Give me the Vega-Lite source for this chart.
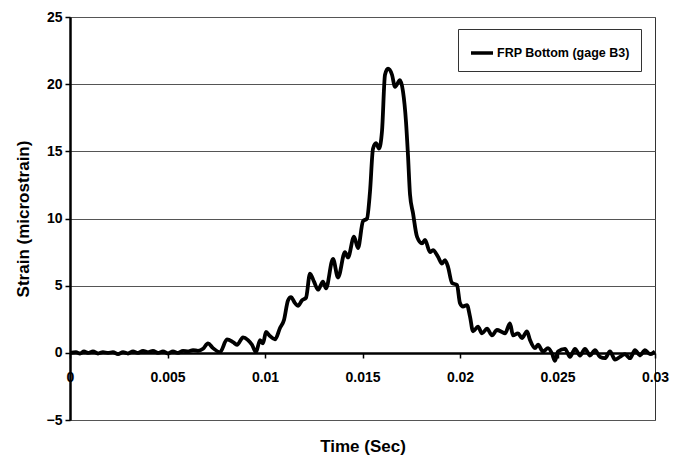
{
  "$schema": "https://vega.github.io/schema/vega-lite/v6.json",
  "width": 585,
  "height": 403,
  "autosize": {"type": "none"},
  "padding": {"left": 70, "top": 17, "right": 28, "bottom": 41},
  "background": "white",
  "config": {
    "font": "Liberation Sans",
    "view": {"stroke": "#333", "strokeWidth": 1}
  },
  "data": {
    "values": [
      {"t": 0, "v": 0, "s": "FRP Bottom (gage B3)"},
      {"t": 0.000308, "v": 0.05, "s": "FRP Bottom (gage B3)"},
      {"t": 0.000513, "v": -0.05, "s": "FRP Bottom (gage B3)"},
      {"t": 0.000718, "v": 0.1, "s": "FRP Bottom (gage B3)"},
      {"t": 0.000923, "v": 0, "s": "FRP Bottom (gage B3)"},
      {"t": 0.001179, "v": 0.1, "s": "FRP Bottom (gage B3)"},
      {"t": 0.001436, "v": -0.05, "s": "FRP Bottom (gage B3)"},
      {"t": 0.001692, "v": 0.05, "s": "FRP Bottom (gage B3)"},
      {"t": 0.001949, "v": 0, "s": "FRP Bottom (gage B3)"},
      {"t": 0.002205, "v": 0.05, "s": "FRP Bottom (gage B3)"},
      {"t": 0.002462, "v": -0.1, "s": "FRP Bottom (gage B3)"},
      {"t": 0.002718, "v": 0.05, "s": "FRP Bottom (gage B3)"},
      {"t": 0.002974, "v": -0.05, "s": "FRP Bottom (gage B3)"},
      {"t": 0.003231, "v": 0.1, "s": "FRP Bottom (gage B3)"},
      {"t": 0.003487, "v": 0, "s": "FRP Bottom (gage B3)"},
      {"t": 0.003744, "v": 0.15, "s": "FRP Bottom (gage B3)"},
      {"t": 0.004, "v": 0.05, "s": "FRP Bottom (gage B3)"},
      {"t": 0.004256, "v": 0.15, "s": "FRP Bottom (gage B3)"},
      {"t": 0.004513, "v": 0, "s": "FRP Bottom (gage B3)"},
      {"t": 0.004769, "v": 0.1, "s": "FRP Bottom (gage B3)"},
      {"t": 0.005026, "v": -0.05, "s": "FRP Bottom (gage B3)"},
      {"t": 0.005282, "v": 0.1, "s": "FRP Bottom (gage B3)"},
      {"t": 0.005538, "v": 0, "s": "FRP Bottom (gage B3)"},
      {"t": 0.005795, "v": 0.15, "s": "FRP Bottom (gage B3)"},
      {"t": 0.006051, "v": 0.1, "s": "FRP Bottom (gage B3)"},
      {"t": 0.006308, "v": 0.2, "s": "FRP Bottom (gage B3)"},
      {"t": 0.006564, "v": 0.15, "s": "FRP Bottom (gage B3)"},
      {"t": 0.006821, "v": 0.3, "s": "FRP Bottom (gage B3)"},
      {"t": 0.007077, "v": 0.7, "s": "FRP Bottom (gage B3)"},
      {"t": 0.007333, "v": 0.35, "s": "FRP Bottom (gage B3)"},
      {"t": 0.007692, "v": 0.05, "s": "FRP Bottom (gage B3)"},
      {"t": 0.008051, "v": 1.0, "s": "FRP Bottom (gage B3)"},
      {"t": 0.008359, "v": 0.8, "s": "FRP Bottom (gage B3)"},
      {"t": 0.008564, "v": 0.6, "s": "FRP Bottom (gage B3)"},
      {"t": 0.008872, "v": 1.15, "s": "FRP Bottom (gage B3)"},
      {"t": 0.009128, "v": 0.95, "s": "FRP Bottom (gage B3)"},
      {"t": 0.009333, "v": 0.6, "s": "FRP Bottom (gage B3)"},
      {"t": 0.009538, "v": 0.05, "s": "FRP Bottom (gage B3)"},
      {"t": 0.009744, "v": 0.95, "s": "FRP Bottom (gage B3)"},
      {"t": 0.009897, "v": 0.7, "s": "FRP Bottom (gage B3)"},
      {"t": 0.010051, "v": 1.55, "s": "FRP Bottom (gage B3)"},
      {"t": 0.010256, "v": 1.25, "s": "FRP Bottom (gage B3)"},
      {"t": 0.010513, "v": 1.0, "s": "FRP Bottom (gage B3)"},
      {"t": 0.010769, "v": 1.85, "s": "FRP Bottom (gage B3)"},
      {"t": 0.010974, "v": 2.45, "s": "FRP Bottom (gage B3)"},
      {"t": 0.011179, "v": 3.9, "s": "FRP Bottom (gage B3)"},
      {"t": 0.011333, "v": 4.15, "s": "FRP Bottom (gage B3)"},
      {"t": 0.011538, "v": 3.7, "s": "FRP Bottom (gage B3)"},
      {"t": 0.011692, "v": 3.5, "s": "FRP Bottom (gage B3)"},
      {"t": 0.011897, "v": 3.9, "s": "FRP Bottom (gage B3)"},
      {"t": 0.012103, "v": 4.1, "s": "FRP Bottom (gage B3)"},
      {"t": 0.012308, "v": 5.9, "s": "FRP Bottom (gage B3)"},
      {"t": 0.012513, "v": 5.3, "s": "FRP Bottom (gage B3)"},
      {"t": 0.012718, "v": 4.7, "s": "FRP Bottom (gage B3)"},
      {"t": 0.012974, "v": 5.3, "s": "FRP Bottom (gage B3)"},
      {"t": 0.013128, "v": 4.8, "s": "FRP Bottom (gage B3)"},
      {"t": 0.013487, "v": 7.0, "s": "FRP Bottom (gage B3)"},
      {"t": 0.013744, "v": 5.6, "s": "FRP Bottom (gage B3)"},
      {"t": 0.014103, "v": 7.5, "s": "FRP Bottom (gage B3)"},
      {"t": 0.014256, "v": 7.1, "s": "FRP Bottom (gage B3)"},
      {"t": 0.014564, "v": 8.65, "s": "FRP Bottom (gage B3)"},
      {"t": 0.014769, "v": 7.8, "s": "FRP Bottom (gage B3)"},
      {"t": 0.015026, "v": 9.8, "s": "FRP Bottom (gage B3)"},
      {"t": 0.015231, "v": 10.0, "s": "FRP Bottom (gage B3)"},
      {"t": 0.015385, "v": 12.0, "s": "FRP Bottom (gage B3)"},
      {"t": 0.015538, "v": 15.2, "s": "FRP Bottom (gage B3)"},
      {"t": 0.015692, "v": 15.6, "s": "FRP Bottom (gage B3)"},
      {"t": 0.015846, "v": 15.2, "s": "FRP Bottom (gage B3)"},
      {"t": 0.016, "v": 16.5, "s": "FRP Bottom (gage B3)"},
      {"t": 0.016154, "v": 20.7, "s": "FRP Bottom (gage B3)"},
      {"t": 0.016308, "v": 21.15, "s": "FRP Bottom (gage B3)"},
      {"t": 0.016513, "v": 20.7, "s": "FRP Bottom (gage B3)"},
      {"t": 0.016667, "v": 19.8, "s": "FRP Bottom (gage B3)"},
      {"t": 0.016923, "v": 20.3, "s": "FRP Bottom (gage B3)"},
      {"t": 0.017077, "v": 19.45, "s": "FRP Bottom (gage B3)"},
      {"t": 0.017231, "v": 17.2, "s": "FRP Bottom (gage B3)"},
      {"t": 0.017333, "v": 14.7, "s": "FRP Bottom (gage B3)"},
      {"t": 0.017436, "v": 11.8, "s": "FRP Bottom (gage B3)"},
      {"t": 0.01759, "v": 10.4, "s": "FRP Bottom (gage B3)"},
      {"t": 0.017795, "v": 8.65, "s": "FRP Bottom (gage B3)"},
      {"t": 0.018051, "v": 8.15, "s": "FRP Bottom (gage B3)"},
      {"t": 0.018205, "v": 8.4, "s": "FRP Bottom (gage B3)"},
      {"t": 0.018462, "v": 7.5, "s": "FRP Bottom (gage B3)"},
      {"t": 0.018615, "v": 7.65, "s": "FRP Bottom (gage B3)"},
      {"t": 0.018872, "v": 7.15, "s": "FRP Bottom (gage B3)"},
      {"t": 0.019077, "v": 6.65, "s": "FRP Bottom (gage B3)"},
      {"t": 0.019231, "v": 6.9, "s": "FRP Bottom (gage B3)"},
      {"t": 0.019385, "v": 6.4, "s": "FRP Bottom (gage B3)"},
      {"t": 0.01959, "v": 5.2, "s": "FRP Bottom (gage B3)"},
      {"t": 0.019846, "v": 5.05, "s": "FRP Bottom (gage B3)"},
      {"t": 0.02, "v": 3.7, "s": "FRP Bottom (gage B3)"},
      {"t": 0.020154, "v": 3.45, "s": "FRP Bottom (gage B3)"},
      {"t": 0.020359, "v": 3.55, "s": "FRP Bottom (gage B3)"},
      {"t": 0.020513, "v": 2.7, "s": "FRP Bottom (gage B3)"},
      {"t": 0.020667, "v": 1.6, "s": "FRP Bottom (gage B3)"},
      {"t": 0.020923, "v": 1.95, "s": "FRP Bottom (gage B3)"},
      {"t": 0.021128, "v": 1.45, "s": "FRP Bottom (gage B3)"},
      {"t": 0.021385, "v": 1.8, "s": "FRP Bottom (gage B3)"},
      {"t": 0.021641, "v": 1.3, "s": "FRP Bottom (gage B3)"},
      {"t": 0.021897, "v": 1.7, "s": "FRP Bottom (gage B3)"},
      {"t": 0.022154, "v": 1.55, "s": "FRP Bottom (gage B3)"},
      {"t": 0.022308, "v": 1.45, "s": "FRP Bottom (gage B3)"},
      {"t": 0.022564, "v": 2.2, "s": "FRP Bottom (gage B3)"},
      {"t": 0.022718, "v": 1.3, "s": "FRP Bottom (gage B3)"},
      {"t": 0.022974, "v": 1.45, "s": "FRP Bottom (gage B3)"},
      {"t": 0.023179, "v": 1.1, "s": "FRP Bottom (gage B3)"},
      {"t": 0.023436, "v": 1.6, "s": "FRP Bottom (gage B3)"},
      {"t": 0.02359, "v": 0.95, "s": "FRP Bottom (gage B3)"},
      {"t": 0.023846, "v": 0.35, "s": "FRP Bottom (gage B3)"},
      {"t": 0.024, "v": 0.6, "s": "FRP Bottom (gage B3)"},
      {"t": 0.024256, "v": 0.1, "s": "FRP Bottom (gage B3)"},
      {"t": 0.024513, "v": 0.35, "s": "FRP Bottom (gage B3)"},
      {"t": 0.024718, "v": -0.05, "s": "FRP Bottom (gage B3)"},
      {"t": 0.024872, "v": -0.6, "s": "FRP Bottom (gage B3)"},
      {"t": 0.025026, "v": 0.1, "s": "FRP Bottom (gage B3)"},
      {"t": 0.025385, "v": 0.3, "s": "FRP Bottom (gage B3)"},
      {"t": 0.025641, "v": -0.3, "s": "FRP Bottom (gage B3)"},
      {"t": 0.025897, "v": 0.3, "s": "FRP Bottom (gage B3)"},
      {"t": 0.026154, "v": -0.2, "s": "FRP Bottom (gage B3)"},
      {"t": 0.02641, "v": 0.3, "s": "FRP Bottom (gage B3)"},
      {"t": 0.026667, "v": -0.2, "s": "FRP Bottom (gage B3)"},
      {"t": 0.026923, "v": 0.2, "s": "FRP Bottom (gage B3)"},
      {"t": 0.027179, "v": -0.3, "s": "FRP Bottom (gage B3)"},
      {"t": 0.027436, "v": -0.4, "s": "FRP Bottom (gage B3)"},
      {"t": 0.027692, "v": 0.1, "s": "FRP Bottom (gage B3)"},
      {"t": 0.027949, "v": -0.5, "s": "FRP Bottom (gage B3)"},
      {"t": 0.028205, "v": -0.3, "s": "FRP Bottom (gage B3)"},
      {"t": 0.028462, "v": -0.1, "s": "FRP Bottom (gage B3)"},
      {"t": 0.028718, "v": -0.4, "s": "FRP Bottom (gage B3)"},
      {"t": 0.028974, "v": 0.2, "s": "FRP Bottom (gage B3)"},
      {"t": 0.029231, "v": -0.2, "s": "FRP Bottom (gage B3)"},
      {"t": 0.029487, "v": 0.2, "s": "FRP Bottom (gage B3)"},
      {"t": 0.029744, "v": -0.1, "s": "FRP Bottom (gage B3)"},
      {"t": 0.03, "v": 0.1, "s": "FRP Bottom (gage B3)"}
    ]
  },
  "mark": {"type": "line", "strokeWidth": 3.8, "interpolate": "monotone", "clip": true},
  "encoding": {
    "x": {
      "field": "t",
      "type": "quantitative",
      "scale": {"domain": [0, 0.03], "nice": false, "zero": false},
      "axis": {
        "title": "Time (Sec)",
        "values": [0, 0.005, 0.01, 0.015, 0.02, 0.025, 0.03],
        "format": "~f",
        "offset": -67,
        "grid": false,
        "domainColor": "black",
        "domainWidth": 2.5,
        "tickColor": "black",
        "tickWidth": 1.5,
        "tickSize": 5,
        "labelPadding": 12,
        "labelFont": "Liberation Sans",
        "labelFontSize": 14,
        "labelFontWeight": "bold",
        "labelColor": "black",
        "labelFlush": false,
        "labelOverlap": false,
        "titleFont": "Liberation Sans",
        "titleFontSize": 17,
        "titleFontWeight": "bold",
        "titleColor": "black",
        "titleY": 93,
        "titleBaseline": "middle"
      }
    },
    "y": {
      "field": "v",
      "type": "quantitative",
      "scale": {"domain": [-5, 25], "nice": false, "zero": false},
      "axis": {
        "title": "Strain (microstrain)",
        "values": [-5, 0, 5, 10, 15, 20, 25],
        "grid": true,
        "gridColor": "#555",
        "gridWidth": 1,
        "domainColor": "black",
        "domainWidth": 2.5,
        "tickColor": "black",
        "tickWidth": 1.5,
        "tickSize": 5,
        "labelPadding": 3,
        "labelFont": "Liberation Sans",
        "labelFontSize": 14,
        "labelFontWeight": "bold",
        "labelColor": "black",
        "titleFont": "Liberation Sans",
        "titleFontSize": 17,
        "titleFontWeight": "bold",
        "titleColor": "black",
        "titleX": -47,
        "titleBaseline": "middle"
      }
    },
    "color": {
      "field": "s",
      "type": "nominal",
      "scale": {"range": ["black"]},
      "legend": {
        "title": null,
        "orient": "none",
        "legendX": 388,
        "legendY": 12,
        "strokeColor": "#333",
        "fillColor": "white",
        "padding": 11,
        "symbolType": "stroke",
        "symbolSize": 484,
        "symbolStrokeWidth": 3.5,
        "labelOffset": 2,
        "labelFont": "Liberation Sans",
        "labelFontSize": 12.5,
        "labelFontWeight": "bold",
        "labelColor": "black",
        "labelLimit": 300
      }
    }
  }
}
